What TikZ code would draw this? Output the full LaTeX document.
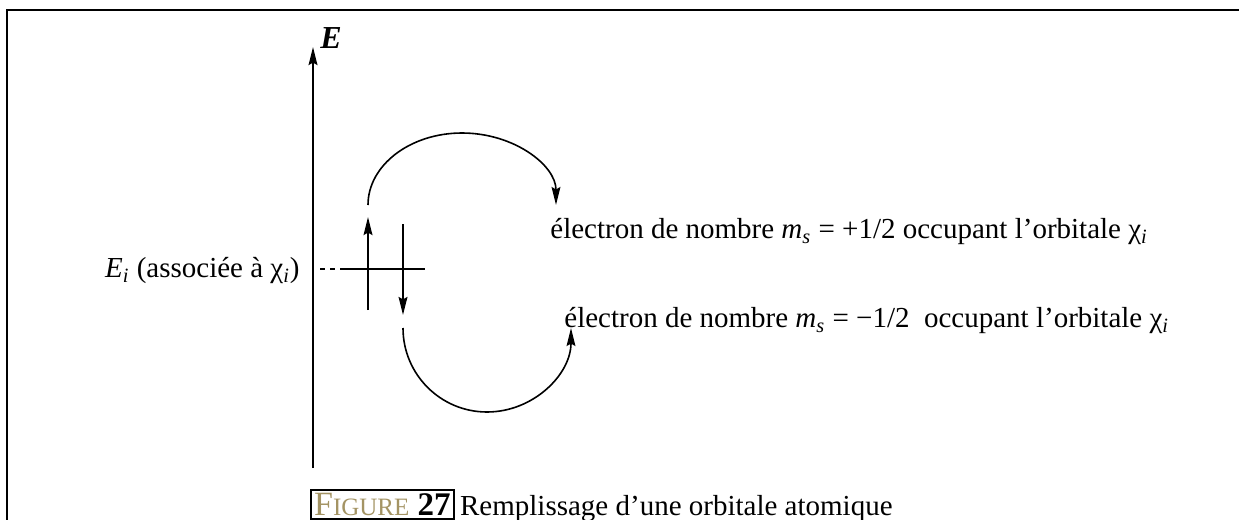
\documentclass[tikz,border=0pt]{standalone}
\usepackage{fontspec}
\setmainfont{Liberation Serif}
\usetikzlibrary{arrows.meta,positioning,calc}
\definecolor{ocre}{RGB}{164,148,100}

\begin{document}
\begin{tikzpicture}[x=0.5pt,y=-0.5pt,
	fleche/.style={-{Stealth[length=9pt,width=4.4pt,inset=1.2pt]}},
	texte/.style={font=\fontsize{14.5}{17}\selectfont, inner sep=0pt}]
	\useasboundingbox (0,0) rectangle (1239,520);

	%% Cadre de la figure
	\draw[line width=1.4pt] (7,525) -- (7,10) -- (1239,10);

	%% Axe des energies
	\coordinate (O) at (313,468);
	\coordinate (Etop) at (313,47);
	\draw[fleche, line width=1pt] (O) -- (Etop);
	\node[texte, font=\fontsize{16}{18}\selectfont, anchor=west] (E) at (320,38) {\textbf{\textit{E}}};

	%% Niveau E_i
	\coordinate (N1) at (320,269); % debut pointilles
	\coordinate (N2) at (345,269); % debut du trait
	\coordinate (N3) at (425,269); % fin du trait
	\draw[dash pattern=on 2.6pt off 2.4pt, line width=0.8pt] (N1) -- (N2);
	\draw[line width=1pt] (N2) -- (N3);
	\node[texte, anchor=east] (Ei) at (300,271)
	  {\textit{E}\textsubscript{\textit{i}} (associée à χ\textsubscript{\textit{i}})};

	%% Les deux electrons
	\coordinate (S1) at (368,310); % spin haut
	\coordinate (S2) at (368,217);
	\coordinate (S3) at (403,224); % spin bas
	\coordinate (S4) at (403,315);
	\draw[fleche, line width=1pt] (S1) -- (S2);
	\draw[fleche, line width=1pt] (S3) -- (S4);

	%% Textes
	\node[texte, anchor=west] (haut) at (550,232)
	  {électron de nombre \textit{m}\textsubscript{\textit{s}} = +1/2 occupant l'orbitale χ\textsubscript{\textit{i}}};
	\node[texte, anchor=west] (bas) at (564,321)
	  {électron de nombre \textit{m}\textsubscript{\textit{s}} = −1/2 \ occupant l'orbitale χ\textsubscript{\textit{i}}};

	%% Fleches courbes
	\coordinate (C1) at (368,205);
	\coordinate (C3) at (403,328);
	\draw[fleche, line width=0.8pt] (C1)
	  arc[start angle=180, end angle=0, x radius=47pt, y radius=36pt];
	\draw[fleche, line width=0.8pt] (C3)
	  arc[start angle=180, end angle=360, radius=42pt];

	%% Legende
	\node[draw, line width=1.1pt, anchor=north west, inner sep=1.5pt,
	  font=\fontsize{16.5}{19}\selectfont] (fig) at (310,489)
	  {\textcolor{ocre}{\fontsize{17}{19}\selectfont F\fontsize{12.5}{19}\selectfont IGURE} \textbf{27}};
	\node[texte, font=\fontsize{14.5}{18}\selectfont, anchor=base west] (titre) at ($(fig.base east)+(5,0)$)
	  {Remplissage d’une orbitale atomique};
\end{tikzpicture}
\end{document}
